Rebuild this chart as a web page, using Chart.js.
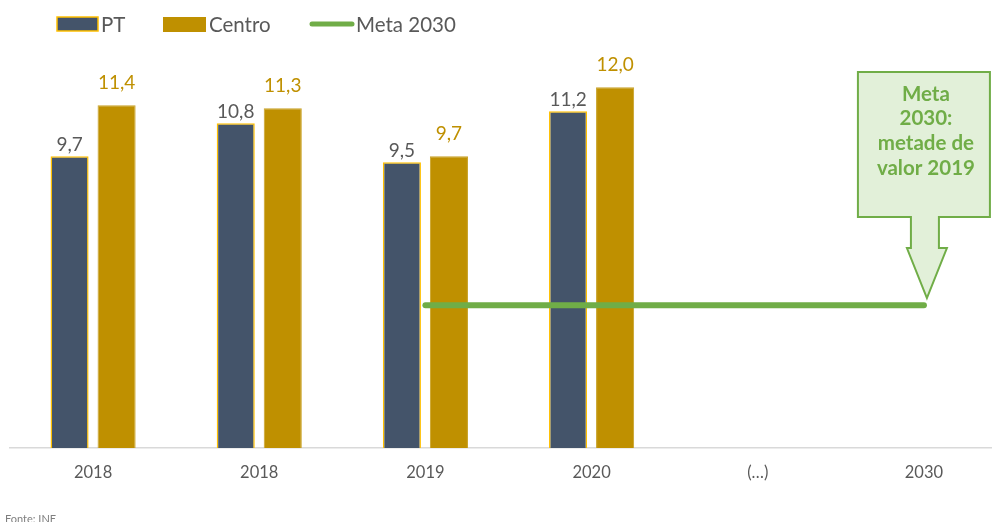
<!DOCTYPE html>
<html>
<head>
<meta charset="utf-8">
<script src="https://cdn.jsdelivr.net/npm/chart.js@4.4.1/dist/chart.umd.min.js"></script>
<style>
  html, body { margin: 0; padding: 0; overflow: hidden; background: #ffffff; width: 992px; height: 522px; }
  #wrap { position: absolute; left: 0; top: 0; width: 1007px; height: 522px; }
  #src { position: absolute; left: 5px; top: 513px; font-family: Lato, sans-serif; font-size: 11px; color: #7f7f7f; line-height: 12px; }
</style>
</head>
<body>
<div id="wrap"><canvas id="c" width="1007" height="522"></canvas></div>
<div id="src">Fonte: INE</div>
<script>
const categories = ['2018', '2018', '2019', '2020', '(…)', '2030'];
const seriesNames = ['PT', 'Centro', 'Meta 2030'];
const ptValues = [9.7, 10.8, 9.5, 11.2, null, null];
const centroValues = [11.4, 11.3, 9.7, 12.0, null, null];
const metaValues = [null, null, 4.75, null, null, 4.75];
const calloutLines = ['Meta', '2030:', 'metade de', 'valor 2019'];

const FONT = 'Lato, "Open Sans", sans-serif';
const fmt = v => v.toFixed(1).replace('.', ',');

const labelPlugin = {
  id: 'barLabels',
  afterDatasetsDraw(chart) {
    const ctx = chart.ctx;
    const cfg = [
      { ds: 0, color: '#595959', off: 5 },
      { ds: 1, color: '#BF9000', off: 16 }
    ];
    ctx.save();
    ctx.font = '19px ' + FONT;
    ctx.textAlign = 'center';
    ctx.textBaseline = 'alphabetic';
    cfg.forEach(c => {
      const meta = chart.getDatasetMeta(c.ds);
      meta.data.forEach((el, i) => {
        const v = chart.data.datasets[c.ds].data[i];
        if (v == null) return;
        ctx.fillStyle = c.color;
        ctx.fillText(fmt(v), el.x, el.y - c.off);
      });
    });
    ctx.restore();
  }
};

const legendPlugin = {
  id: 'customLegend',
  afterDraw(chart) {
    const ctx = chart.ctx;
    const ds = chart.data.datasets;
    ctx.save();
    ctx.font = '20.5px ' + FONT;
    ctx.textBaseline = 'alphabetic';
    // PT
    ctx.fillStyle = ds[0].backgroundColor;
    ctx.fillRect(57, 17, 41, 14);
    ctx.strokeStyle = ds[0].borderColor;
    ctx.lineWidth = 1.5;
    ctx.strokeRect(57, 17, 41, 14);
    ctx.fillStyle = '#595959';
    ctx.fillText(ds[0].label, 101, 32);
    // Centro
    ctx.fillStyle = ds[1].backgroundColor;
    ctx.fillRect(163, 17, 43, 15);
    ctx.fillStyle = '#595959';
    ctx.fillText(ds[1].label, 209, 32);
    // Meta
    ctx.strokeStyle = ds[2].borderColor;
    ctx.lineWidth = 5;
    ctx.lineCap = 'round';
    ctx.beginPath();
    ctx.moveTo(312, 24);
    ctx.lineTo(352, 24);
    ctx.stroke();
    ctx.fillStyle = '#595959';
    ctx.fillText(ds[2].label, 356, 32);
    ctx.restore();
  }
};

const calloutPlugin = {
  id: 'callout',
  afterDatasetsDraw(chart) {
    const ctx = chart.ctx;
    const xs = chart.scales.x, ys = chart.scales.y;
    const tipX = xs.getPixelForValue(5) + 3;
    const tipY = ys.getPixelForValue(metaValues[5]) - 7;
    const c = tipX - 1;
    const boxL = tipX - 69, boxR = tipX + 63, boxT = 72, boxB = 217;
    const stemB = 248;
    ctx.save();
    ctx.beginPath();
    ctx.moveTo(boxL, boxT);
    ctx.lineTo(boxR, boxT);
    ctx.lineTo(boxR, boxB);
    ctx.lineTo(c + 13, boxB);
    ctx.lineTo(c + 13, stemB);
    ctx.lineTo(c + 21, stemB);
    ctx.lineTo(tipX, tipY);
    ctx.lineTo(c - 19, stemB);
    ctx.lineTo(c - 15, stemB);
    ctx.lineTo(c - 15, boxB);
    ctx.lineTo(boxL, boxB);
    ctx.closePath();
    ctx.fillStyle = '#E2F0D9';
    ctx.fill();
    ctx.strokeStyle = '#70AD47';
    ctx.lineWidth = 2;
    ctx.lineJoin = 'miter';
    ctx.stroke();
    ctx.fillStyle = '#70AD47';
    ctx.font = 'bold 20.5px ' + FONT;
    ctx.textAlign = 'center';
    ctx.textBaseline = 'middle';
    calloutLines.forEach((t, i) => {
      ctx.fillText(t, c, 94 + i * 24.7);
    });
    ctx.restore();
  }
};

new Chart(document.getElementById('c'), {
  type: 'bar',
  data: {
    labels: categories,
    datasets: [
      {
        label: seriesNames[0],
        data: ptValues,
        backgroundColor: '#44546A',
        borderColor: '#FFC000',
        borderWidth: 1.5,
        categoryPercentage: 0.566,
        barPercentage: 0.81,
        order: 2
      },
      {
        label: seriesNames[1],
        data: centroValues,
        backgroundColor: '#BF9000',
        borderColor: '#C9A227',
        borderWidth: 1,
        categoryPercentage: 0.566,
        barPercentage: 0.81,
        order: 2
      },
      {
        type: 'line',
        label: seriesNames[2],
        data: metaValues,
        borderColor: '#70AD47',
        backgroundColor: '#70AD47',
        borderWidth: 6,
        borderCapStyle: 'round',
        pointRadius: 0,
        spanGaps: true,
        fill: false,
        order: 1
      }
    ]
  },
  options: {
    responsive: false,
    animation: false,
    layout: { padding: { left: 10, right: 0, top: 27, bottom: 0 } },
    plugins: {
      legend: { display: false },
      tooltip: { enabled: false }
    },
    scales: {
      y: { display: false, min: 0, max: 14 },
      x: {
        afterFit(scale) { scale.height = 74; },
        grid: { display: true, color: 'rgba(0,0,0,0)', drawTicks: false },
        border: { display: true, color: '#D9D9D9', width: 1.5 },
        ticks: { color: '#595959', font: { family: FONT, size: 16.5 }, padding: 15 }
      }
    }
  },
  plugins: [labelPlugin, legendPlugin, calloutPlugin]
});
</script>
</body>
</html>
